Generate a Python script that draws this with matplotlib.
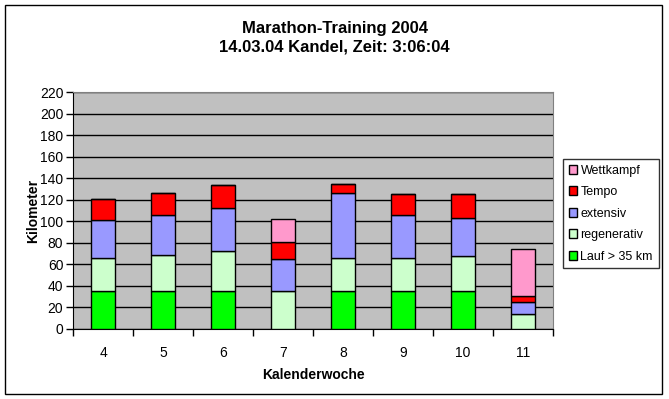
import matplotlib
matplotlib.use('Agg')
import matplotlib.pyplot as plt
from matplotlib.patches import Rectangle
import numpy as np

plt.rcParams['font.family'] = ['Liberation Sans', 'DejaVu Sans']

# Kalenderwochen und Kilometer je Trainingsart
weeks = ['4', '5', '6', '7', '8', '9', '10', '11']
lauf35 = [35, 35, 35, 0, 35, 35, 35, 0]
regenerativ = [31, 34, 37, 35, 31, 31, 33, 14]
extensiv = [35, 37, 40, 30, 60, 40, 35, 11]
tempo = [20, 20, 22, 16, 9, 19, 22, 6]
wettkampf = [0, 0, 0, 21, 0, 0, 0, 43]

series = [
    ('Lauf > 35 km', lauf35, '#00FF00'),
    ('regenerativ', regenerativ, '#CCFFCC'),
    ('extensiv', extensiv, '#9999FF'),
    ('Tempo', tempo, '#FF0000'),
    ('Wettkampf', wettkampf, '#FF99CC'),
]

fig = plt.figure(figsize=(6.69, 3.99), dpi=100)
fig.patch.set_facecolor('white')
ax = fig.add_axes([73 / 669, 70 / 399, 480 / 669, 237 / 399])
ax.set_facecolor('#C0C0C0')

x = np.arange(len(weeks))
bottom = np.zeros(len(weeks))
handles = []
for name, vals, col in series:
    vals = np.array(vals, dtype=float)
    b = ax.bar(x, vals, width=0.4, bottom=bottom, color=col,
               edgecolor='black', linewidth=1, label=name, zorder=3)
    handles.append(b)
    bottom += vals

ax.set_ylim(0, 220)
ax.set_yticks(np.arange(0, 221, 20))
ax.yaxis.grid(True, color='black', linewidth=1, zorder=1)
ax.set_axisbelow(True)
ax.set_xlim(-0.5, len(weeks) - 0.5)
ax.set_xticks(x)
ax.set_xticklabels(weeks)
ax.set_xticks(np.arange(-0.5, len(weeks), 1), minor=True)
ax.tick_params(axis='x', which='major', length=0, pad=12, labelsize=10)
ax.tick_params(axis='x', which='minor', length=5, width=1, direction='out')
ax.tick_params(axis='y', length=5, width=1, direction='out', labelsize=10, pad=2)

for s in ['top', 'right']:
    ax.spines[s].set_color('#808080')
for s in ['left', 'bottom']:
    ax.spines[s].set_color('black')

ax.set_xlabel('Kalenderwoche', fontsize=10, fontweight='bold', labelpad=6)
ax.set_ylabel('Kilometer', fontsize=10, fontweight='bold', labelpad=0)

fig.text(0.5, 1 - 28 / 399, 'Marathon-Training 2004', ha='center', va='center',
         fontsize=12, fontweight='bold')
fig.text(0.5, 1 - 47 / 399, '14.03.04 Kandel, Zeit: 3:06:04', ha='center', va='center',
         fontsize=12, fontweight='bold')

leg = fig.legend(handles[::-1], [s[0] for s in series][::-1],
                 loc='upper left', bbox_to_anchor=(563 / 669, 1 - 159 / 399),
                 frameon=True, fancybox=False, edgecolor='black', fontsize=9,
                 handlelength=0.7, handleheight=0.7, handletextpad=0.25,
                 labelspacing=0.76, borderpad=0.45, borderaxespad=0)
leg.get_frame().set_linewidth(1)

fig.patches.append(Rectangle((5 / 669, 5 / 399), 657 / 669, 389 / 399,
                             transform=fig.transFigure, fill=False,
                             edgecolor='black', linewidth=1))

fig.savefig('out.png', dpi=100)
